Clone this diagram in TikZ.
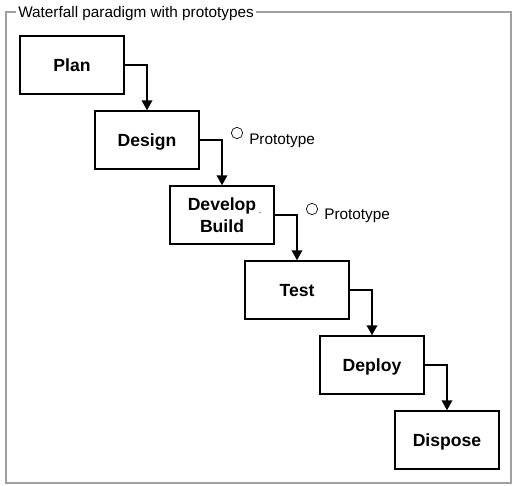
\documentclass[tikz,border=0pt]{standalone}
\usepackage{fontspec}
\setmainfont{Liberation Sans}
\usetikzlibrary{arrows.meta}
\definecolor{framegray}{RGB}{160,160,160}
\begin{document}
\begin{tikzpicture}[x=0.75pt,y=-0.75pt,
  phase/.style={draw, line width=1.1pt, minimum width=78pt, minimum height=43.5pt,
    inner sep=0pt, align=center, font=\fontsize{13.2}{16.1}\selectfont\bfseries},
  oneline/.style={text height=9.45pt, text depth=0pt},
  flow/.style={line width=1.1pt, -{Triangle[width=8pt,length=7.5pt]}},
  proto/.style={circle, draw, line width=0.5pt, minimum size=8.5pt, inner sep=0pt},
  protolabel/.style={font=\fontsize{11.5}{13}\selectfont, anchor=base west, inner sep=0pt}]

  % canvas
  \useasboundingbox (0,0) rectangle (513,485);
  \fill[white] (0,0) rectangle (513,485);

  % group frame with its caption
  \draw[framegray, line width=1.3pt] (6,12) rectangle (511,483);
  \node[fill=white, anchor=west, inner xsep=1.5pt, inner ysep=0pt,
        text height=8.23pt, text depth=0pt,
        font=\fontsize{11.5}{13}\selectfont] (title) at (16,12.5)
        {Waterfall paradigm with prototypes};

  % phases
  \node[phase, oneline] (plan)    at (72,65)    {Plan};
  \node[phase, oneline] (design)  at (147,140)  {Design};
  \node[phase]          (develop) at (222,215)  {Develop\\Build};
  \node[phase, oneline] (test)    at (297,290)  {Test};
  \node[phase, oneline] (deploy)  at (372,365)  {Deploy};
  \node[phase, oneline] (dispose) at (447,440)  {Dispose};

  % stray mark beside "Develop"
  \node[circle, fill=gray, inner sep=0pt, minimum size=1.3pt] (mark) at (260,212.5) {};

  % cascade
  \draw[flow] (plan.east)    -| (design.north);
  \draw[flow] (design.east)  -| (develop.north);
  \draw[flow] (develop.east) -| (test.north);
  \draw[flow] (test.east)    -| (deploy.north);
  \draw[flow] (deploy.east)  -| (dispose.north);

  % prototype markers
  \node[proto] (proto1) at (237,133) {};
  \node[protolabel] (proto1text) at (249,144) {Prototype};
  \node[proto] (proto2) at (312,209) {};
  \node[protolabel] (proto2text) at (324,219) {Prototype};
\end{tikzpicture}
\end{document}
